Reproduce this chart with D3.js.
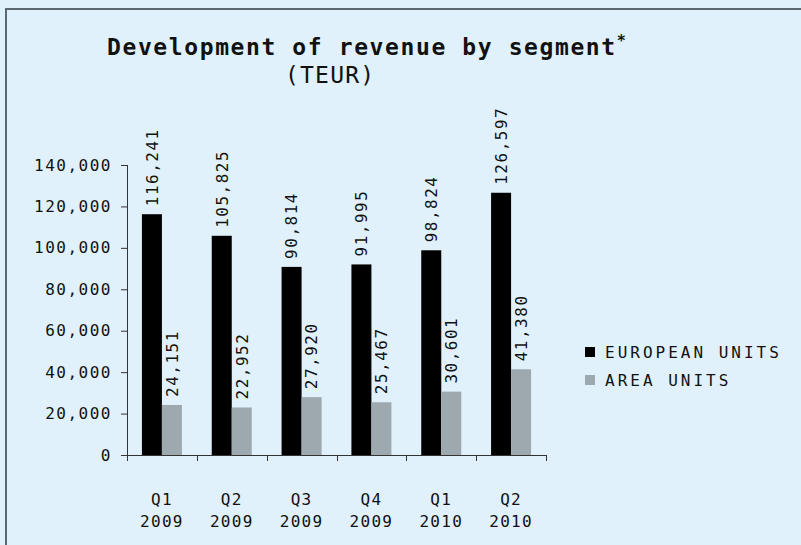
<!DOCTYPE html>
<html>
<head>
<meta charset="utf-8">
<script src="https://cdn.jsdelivr.net/npm/d3@7"></script>
<style>
  html, body { margin: 0; padding: 0; background: #e0f1fb; }
  svg { display: block; }
  text { font-family: "DejaVu Sans Mono", "Liberation Mono", monospace; fill: #111; }
  .tick text { font-size: 16px; letter-spacing: 1.5px; }
  .axis path, .axis line { stroke: #333; }
</style>
</head>
<body>
<svg class="chart"></svg>
<script>
const width = 801;
const height = 545;

const categories = ['Q1 2009', 'Q2 2009', 'Q3 2009', 'Q4 2009', 'Q1 2010', 'Q2 2010'];
const seriesNames = ['EUROPEAN UNITS', 'AREA UNITS'];
const europeanUnits = [116241, 105825, 90814, 91995, 98824, 126597];
const areaUnits = [24151, 22952, 27920, 25467, 30601, 41380];
const yTicks = [0, 20000, 40000, 60000, 80000, 100000, 120000, 140000];
const colors = ['#000000', '#9da9af'];

const plot = { left: 127, right: 546, top: 165, bottom: 455 };
const fmt = d3.format(',');

const svg = d3.select('svg.chart')
    .attr('width', width)
    .attr('height', height);

// frame: top and left edges only
svg.append('path')
    .attr('d', `M6,${height} V9 H${width}`)
    .attr('fill', 'none')
    .attr('stroke', '#5b6870')
    .attr('stroke-width', 2);

// title
svg.append('text')
    .attr('x', 107)
    .attr('y', 55)
    .style('font-size', '23px')
    .style('font-weight', 'bold')
    .style('letter-spacing', '1.6px')
    .text('Development of revenue by segment')
    .append('tspan')
    .attr('dy', -9)
    .style('font-size', '15px')
    .style('letter-spacing', '0px')
    .text('*');

svg.append('text')
    .attr('x', 285)
    .attr('y', 83)
    .style('font-size', '23px')
    .style('letter-spacing', '1.2px')
    .text('(TEUR)');

const y = d3.scaleLinear()
    .domain([0, 140000])
    .range([plot.bottom, plot.top]);

const x = d3.scaleBand()
    .domain(categories)
    .range([plot.left, plot.right]);

const xSeries = d3.scaleBand()
    .domain(seriesNames)
    .range([0, x.bandwidth()])
    .paddingOuter(0.746);

// y axis
svg.append('g')
    .attr('class', 'axis')
    .attr('transform', `translate(${plot.left},0)`)
    .call(d3.axisLeft(y).tickValues(yTicks).tickFormat(fmt).tickSize(6).tickSizeOuter(0).tickPadding(9))
    .call(g => g.select('.domain').attr('d', `M0.5,${plot.top} V${plot.bottom}`));

// x axis with ticks at category boundaries
const xAxis = svg.append('g')
    .attr('class', 'axis')
    .attr('transform', `translate(0,${plot.bottom})`);

xAxis.append('path')
    .attr('d', `M${plot.left - 5},0.5 H${plot.right}`)
    .attr('stroke', '#333');

const boundaries = categories.map(c => x(c)).concat([plot.right]);
xAxis.selectAll('line.bound')
    .data(boundaries)
    .join('line')
    .attr('class', 'bound')
    .attr('x1', d => Math.round(d) + 0.5)
    .attr('x2', d => Math.round(d) + 0.5)
    .attr('y1', 0)
    .attr('y2', 6)
    .attr('stroke', '#333');

const xLabels = xAxis.selectAll('text.cat')
    .data(categories)
    .join('text')
    .attr('class', 'cat')
    .attr('text-anchor', 'middle')
    .style('font-size', '16px')
    .style('letter-spacing', '1.3px');

xLabels.append('tspan')
    .attr('x', d => x(d) + x.bandwidth() / 2)
    .attr('y', 50)
    .text(d => d.split(' ')[0]);

xLabels.append('tspan')
    .attr('x', d => x(d) + x.bandwidth() / 2)
    .attr('y', 72)
    .text(d => d.split(' ')[1]);

// bars
const rows = categories.map((c, i) => ({
    category: c,
    values: [
        { series: seriesNames[0], value: europeanUnits[i] },
        { series: seriesNames[1], value: areaUnits[i] }
    ]
}));

const groups = svg.append('g')
    .selectAll('g')
    .data(rows)
    .join('g')
    .attr('transform', d => `translate(${x(d.category)},0)`);

groups.selectAll('rect')
    .data(d => d.values)
    .join('rect')
    .attr('x', d => xSeries(d.series))
    .attr('y', d => y(d.value))
    .attr('width', xSeries.bandwidth())
    .attr('height', d => y(0) - y(d.value))
    .attr('fill', (d, i) => colors[i]);

// rotated value labels
groups.selectAll('text')
    .data(d => d.values)
    .join('text')
    .attr('transform', d => `translate(${xSeries(d.series) + xSeries.bandwidth() / 2},${y(d.value) - 8}) rotate(-90)`)
    .attr('dy', '0.36em')
    .style('font-size', '16px')
    .style('letter-spacing', '1.5px')
    .text(d => fmt(d.value));

// legend
const legend = svg.append('g')
    .selectAll('g')
    .data(seriesNames)
    .join('g')
    .attr('transform', (d, i) => `translate(585,${347 + i * 28})`);

legend.append('rect')
    .attr('width', 10)
    .attr('height', 10)
    .attr('fill', (d, i) => colors[i]);

legend.append('text')
    .attr('x', 20)
    .attr('y', 11)
    .style('font-size', '16px')
    .style('letter-spacing', '3px')
    .text(d => d);
</script>
</body>
</html>
